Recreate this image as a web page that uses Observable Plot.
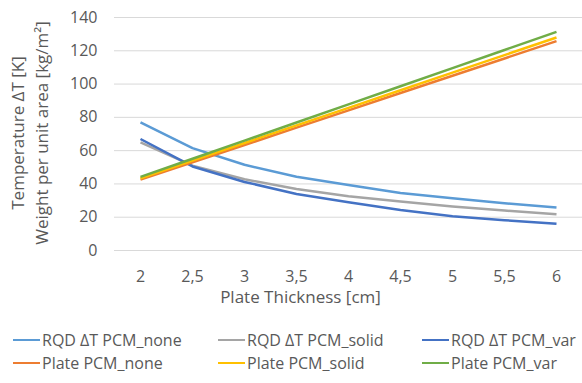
<!DOCTYPE html>
<html>
<head>
<meta charset="utf-8">
<script src="https://cdn.jsdelivr.net/npm/d3@7"></script>
<script src="https://cdn.jsdelivr.net/npm/@observablehq/plot@0.6"></script>
<style>
  html, body { margin: 0; padding: 0; background: #fff; }
  body { width: 582px; height: 383px; overflow: hidden; font-family: "Open Sans", sans-serif; }
  #legend { position: relative; width: 582px; height: 63px; font-size: 16px; color: #595959; }
  .item { position: absolute; display: flex; align-items: center; white-space: nowrap; height: 20px; }
  .sw { width: 27px; height: 2.5px; margin-right: 2px; }
</style>
</head>
<body>
<div id="chart"></div>
<div id="legend"></div>
<script>
const thickness = [2, 2.5, 3, 3.5, 4, 4.5, 5, 5.5, 6];
const xTickLabels = ["2", "2,5", "3", "3,5", "4", "4,5", "5", "5,5", "6"];
const yTicks = [0, 20, 40, 60, 80, 100, 120, 140];

const seriesNames = [
  "RQD ΔT PCM_none", "RQD ΔT PCM_solid", "RQD ΔT PCM_var",
  "Plate PCM_none", "Plate PCM_solid", "Plate PCM_var"
];
const seriesColors = ["#5B9BD5", "#A5A5A5", "#4472C4", "#ED7D31", "#FFC000", "#70AD47"];

const rqdNone  = [77, 61.5, 51.5, 44.3, 39.3, 34.6, 31.4, 28.4, 25.8];
const rqdSolid = [65, 51, 42.8, 37, 32.6, 29.4, 26.4, 24, 21.8];
const rqdVar   = [67, 50.5, 41.2, 34, 29, 24.4, 20.6, 18.2, 16];
const plateNone  = [42.6, 53, 63.4, 73.8, 84.2, 94.6, 105, 115.4, 125.8];
const plateSolid = [43.4, 54, 64.6, 75.2, 85.7, 96.3, 106.9, 117.4, 128];
const plateVar   = [44.2, 55.1, 66, 76.9, 87.8, 98.7, 109.6, 120.5, 131.4];

const xTitle = "Plate Thickness [cm]";
const yTitles = ["Temperature ΔT [K]", "Weight per unit area [kg/m²]"];

const allSeries = [rqdNone, rqdSolid, rqdVar, plateNone, plateSolid, plateVar];
const rows = [];
allSeries.forEach((vals, i) => {
  vals.forEach((v, j) => rows.push({series: seriesNames[i], x: thickness[j], y: v}));
});

const textColor = "#595959";
const font = "Open Sans";
const fmtX = (d) => xTickLabels[thickness.indexOf(d)];

const chart = Plot.plot({
  width: 582,
  height: 320,
  marginLeft: 114,
  marginRight: 0,
  marginTop: 17,
  marginBottom: 70,
  style: {fontFamily: font, fontSize: "16px", color: textColor, background: "transparent"},
  x: {domain: [1.75, 6.25], label: null},
  y: {domain: [0, 140], label: null},
  color: {domain: seriesNames, range: seriesColors},
  marks: [
    Plot.gridY(yTicks, {stroke: "#d9d9d9", strokeOpacity: 1, strokeWidth: 1}),
    Plot.axisX({ticks: thickness, tickFormat: fmtX, tickSize: 0, tickPadding: 20, label: null, fill: textColor, fontSize: 16}),
    Plot.axisY({ticks: yTicks, tickSize: 0, tickPadding: 17, label: null, fill: textColor, fontSize: 16}),
    Plot.line(rows, {x: "x", y: "y", z: "series", stroke: "series", strokeWidth: 2.5, strokeLinejoin: "round", strokeLinecap: "butt"}),
    Plot.text([xTitle], {frameAnchor: "bottom", lineAnchor: "middle", dx: -48, dy: 47, text: d => d, fill: textColor, fontSize: 17}),
    Plot.text([yTitles[0]], {frameAnchor: "left", textAnchor: "middle", lineAnchor: "middle", dx: -96, dy: -1, rotate: -90, text: d => d, fill: textColor, fontSize: 17}),
    Plot.text([yTitles[1]], {frameAnchor: "left", textAnchor: "middle", lineAnchor: "middle", dx: -72, dy: -1, rotate: -90, text: d => d, fill: textColor, fontSize: 17})
  ]
});
document.getElementById("chart").appendChild(chart);

// legend
const legend = document.getElementById("legend");
const colX = [13, 218, 422];
const rowY = [10, 33];
seriesNames.forEach((name, i) => {
  const item = document.createElement("div");
  item.className = "item";
  item.style.left = colX[i % 3] + "px";
  item.style.top = rowY[Math.floor(i / 3)] + "px";
  const sw = document.createElement("span");
  sw.className = "sw";
  sw.style.background = seriesColors[i];
  const t = document.createElement("span");
  t.textContent = name;
  item.appendChild(sw);
  item.appendChild(t);
  legend.appendChild(item);
});
</script>
</body>
</html>
